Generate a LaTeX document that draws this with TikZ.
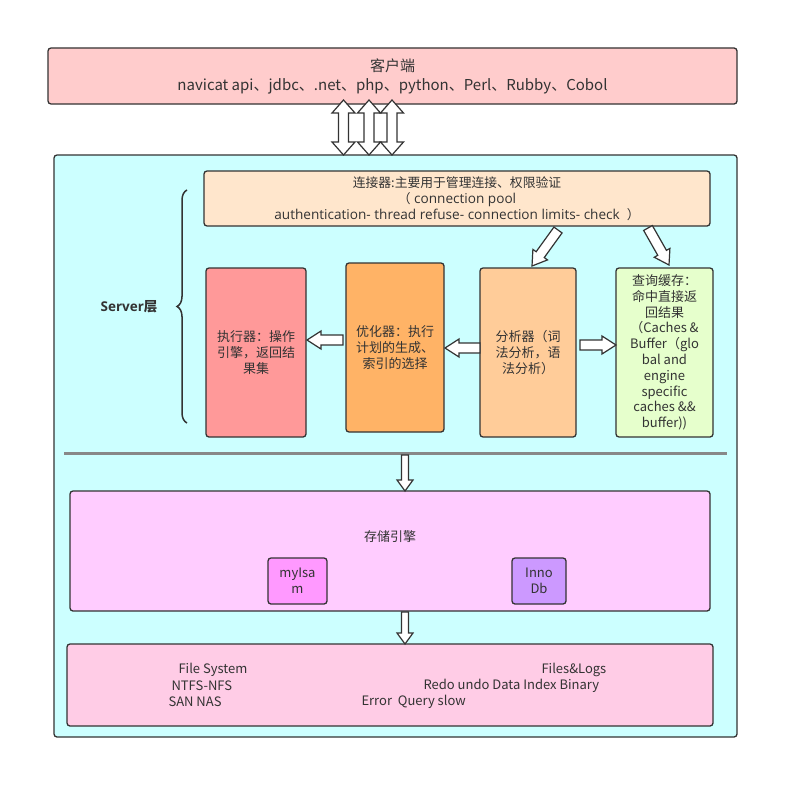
\documentclass[tikz,border=0pt]{standalone}
\usepackage{fontspec}
\setmainfont{Noto Sans CJK SC}
\newfontfamily\opensans{Open Sans}
\usetikzlibrary{calc,decorations.pathreplacing}
\definecolor{bordc}{HTML}{333333}
\definecolor{textc}{HTML}{333333}
\definecolor{clientc}{HTML}{FFCCCC}
\definecolor{mainc}{HTML}{CCFFFF}
\definecolor{connc}{HTML}{FFE6CC}
\definecolor{execc}{HTML}{FF9999}
\definecolor{optc}{HTML}{FFB366}
\definecolor{analc}{HTML}{FFCC99}
\definecolor{cachec}{HTML}{E6FFCC}
\definecolor{storc}{HTML}{FFCCFF}
\definecolor{myisc}{HTML}{FF99FF}
\definecolor{innoc}{HTML}{CC99FF}
\definecolor{filesc}{HTML}{FFCCE6}
\definecolor{sepc}{HTML}{888888}
% single block arrow: from, to, half shaft, half head, head length
\newcommand\blockarrow[5]{%
  \coordinate (BAh) at ($(#2)!#5!(#1)$);
  \draw[barrow] ($(#1)!#3!90:(#2)$) -- ($(BAh)!#3!-90:(#1)$) -- ($(BAh)!#4!-90:(#1)$)
    -- (#2) -- ($(BAh)!#4!90:(#1)$) -- ($(BAh)!#3!90:(#1)$) -- ($(#1)!#3!-90:(#2)$) -- cycle;}
% double block arrow
\newcommand\dblockarrow[5]{%
  \coordinate (BAa) at ($(#1)!#5!(#2)$);
  \coordinate (BAb) at ($(#2)!#5!(#1)$);
  \draw[barrow] (#1) -- ($(BAa)!#4!90:(#2)$) -- ($(BAa)!#3!90:(#2)$) -- ($(BAb)!#3!-90:(#1)$)
    -- ($(BAb)!#4!-90:(#1)$) -- (#2) -- ($(BAb)!#4!90:(#1)$) -- ($(BAb)!#3!90:(#1)$)
    -- ($(BAa)!#3!-90:(#2)$) -- ($(BAa)!#4!-90:(#2)$) -- cycle;}
\begin{document}
\begin{tikzpicture}[x=1pt,y=-1pt,
  box/.style={draw=bordc, line width=1.3pt, rounded corners=3pt, inner sep=0pt},
  txt/.style={text=textc, font=\fontsize{13}{15.8}\selectfont, align=center},
  barrow/.style={draw=bordc, line width=1.2pt, fill=white, line join=miter}]
\useasboundingbox[fill=white] (0,0) rectangle (800,800);

% main server container
\node[box, fill=mainc, minimum width=683pt, minimum height=582pt] (main) at (395.5,446) {};

% client
\node[box, fill=clientc, minimum width=689pt, minimum height=56pt, txt,
  font=\fontsize{15}{19}\selectfont] (client) at (392.5,76)
  {客户端\\navicat api、jdbc、.net、php、python、Perl、Rubby、Cobol};

% connector
\node[box, fill=connc, minimum width=506pt, minimum height=55pt, txt,
  font=\fontsize{12.8}{16}\selectfont] (conn) at (457,198.5)
  {连接器:主要用于管理连接、权限验证\\（{\opensans\fontsize{13.6}{16}\selectfont\ connection pool}\\
   {\opensans\fontsize{13.6}{16}\selectfont authentication- thread refuse- connection limits- check \ }）};

% four modules
\node[box, fill=execc, minimum width=100pt, minimum height=169pt, txt] (exec) at (256,352.5)
  {执行器：操作\\引擎，返回结\\果集};
\node[box, fill=optc, minimum width=98pt, minimum height=169pt, txt] (opt) at (395,347.5)
  {优化器：执行\\计划的生成、\\索引的选择};
\node[box, fill=analc, minimum width=96pt, minimum height=169pt, txt] (anal) at (528,352.5)
  {分析器（词\\法分析，语\\法分析）};
\node[box, fill=cachec, minimum width=97pt, minimum height=169pt, txt] (cache) at (664.5,352.5)
  {查询缓存：\\命中直接返\\回结果\\（Caches \&\\Buffer（glo\\bal and\\engine\\specific\\caches \&\&\\buffer))};

% server layer brace
\coordinate (brtop) at (187,190);
\coordinate (brbot) at (187,423);
\draw[decorate, decoration={brace, amplitude=10pt}, draw=bordc, line width=1.5pt] (brbot) -- (brtop);
\node[txt, font=\bfseries\fontsize{13.5}{15}\selectfont, anchor=east] (srv) at (161,307)
  {{\opensans\bfseries Server}层};

% separator
\coordinate (sepl) at (64,453);
\coordinate (sepr) at (727,453);
\draw[sepc, line width=3pt] (sepl) -- (sepr);

% storage engine
\node[box, fill=storc, minimum width=640pt, minimum height=120pt] (stor) at (390,551) {};
\node[txt] (stortxt) at (390,537) {存储引擎};
\node[box, fill=myisc, minimum width=59pt, minimum height=46pt, txt] (myis) at (297.5,581) {myIsa\\m};
\node[box, fill=innoc, minimum width=54pt, minimum height=46pt, txt] (inno) at (539,581) {Inno\\Db};

% files
\node[box, fill=filesc, minimum width=646pt, minimum height=82pt] (files) at (390,685) {};
\node[txt, anchor=west] (f1) at (175,670) {File System};
\node[txt, anchor=west] (f2) at (168,686) {NTFS-NFS};
\node[txt, anchor=west] (f3) at (165,702) {SAN NAS};
\node[txt, anchor=west] (f4) at (538,670) {Files\&Logs};
\node[txt, anchor=west] (f5) at (420,686) {Redo undo Data Index Binary};
\node[txt, anchor=west] (f6) at (358,702) {Error \ Query slow};

% client <-> server arrows
\coordinate (c1a) at (343.5,100); \coordinate (c1b) at (343.5,155);
\coordinate (c2a) at (369,100);   \coordinate (c2b) at (369,155);
\coordinate (c3a) at (392,100);   \coordinate (c3b) at (392,155);
\dblockarrow{c1a}{c1b}{5pt}{11.5pt}{13pt}
\dblockarrow{c2a}{c2b}{5pt}{11.5pt}{13pt}
\dblockarrow{c3a}{c3b}{5pt}{11.5pt}{13pt}

% connector -> analyzer / cache
\coordinate (ca1) at (558,230); \coordinate (ca2) at (532,266);
\coordinate (cc1) at (648,228); \coordinate (cc2) at (669,265);
\blockarrow{ca1}{ca2}{5pt}{9pt}{14pt}
\blockarrow{cc1}{cc2}{5pt}{9pt}{14pt}

% horizontal arrows
\coordinate (oe1) at (343,340); \coordinate (oe2) at (307,340);
\coordinate (ao1) at (480,348); \coordinate (ao2) at (445,348);
\coordinate (ac1) at (580,345); \coordinate (ac2) at (616,345);
\blockarrow{oe1}{oe2}{5pt}{9pt}{14pt}
\blockarrow{ao1}{ao2}{5pt}{9pt}{14pt}
\blockarrow{ac1}{ac2}{5pt}{9pt}{14pt}

% down arrows
\coordinate (d1a) at (405,455); \coordinate (d1b) at (405,491);
\coordinate (d2a) at (405,612); \coordinate (d2b) at (405,644);
\blockarrow{d1a}{d1b}{3.5pt}{8pt}{11pt}
\blockarrow{d2a}{d2b}{3.5pt}{8pt}{11pt}
\end{tikzpicture}
\end{document}
